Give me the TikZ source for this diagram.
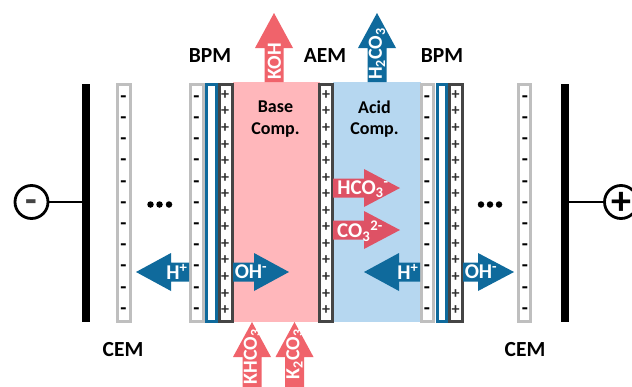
\documentclass[tikz,border=0pt]{standalone}
\usepackage{fontspec}
\setmainfont{Carlito}
\definecolor{arrowred}{HTML}{F0636B}
\definecolor{ionred}{HTML}{DE5265}
\definecolor{deepblue}{HTML}{0F6A9C}
\definecolor{basepink}{HTML}{FFB7BB}
\definecolor{acidblue}{HTML}{B6D7F0}
\definecolor{memgrey}{HTML}{BFBFBF}
\definecolor{memdark}{HTML}{454545}
\newcommand{\fs}[1]{\fontsize{#1}{#1}\selectfont}
\tikzset{
  panel/.style={anchor=north west,inner sep=0pt,outer sep=0pt},
  cemmem/.style={draw=memgrey,line width=3pt,fill=white},
  posmem/.style={draw=memdark,line width=3pt,fill=white},
  midmem/.style={draw=deepblue,line width=3pt,fill=white},
  elecbar/.style={fill=black},
  headlabel/.style={font=\bfseries\fs{21.5},text=black,inner sep=0pt},
  comp/.style={font=\bfseries\fs{18},text=black,inner sep=0pt,align=center},
  minussign/.style={font=\bfseries\fs{20},text=black,inner sep=0pt},
  plussign/.style={font=\bfseries\fs{16},text=memdark!70!black,inner sep=0pt},
  ion/.style={font=\bfseries\fs{21},text=white,inner sep=0pt},
  vion/.style={font=\bfseries\fs{20},text=white,inner sep=0pt,rotate=90},
  wire/.style={line width=2.6pt,draw=black},
  pole/.style={circle,draw=black,line width=2.8pt,fill=white,minimum size=33pt,inner sep=0pt},
  dotmark/.style={circle,fill=black,minimum size=6.5pt,inner sep=0pt}
}
% horizontal block arrow: start x, head base x, tip x, centre y, colour
\newcommand{\harrow}[5]{\fill[#5] (#1,#4-9.5) -- (#2,#4-9.5) -- (#2,#4-19) -- (#3,#4) -- (#2,#4+19) -- (#2,#4+9.5) -- (#1,#4+9.5) -- cycle;}
% vertical block arrow: centre x, start y, head base y, tip y, colour
\newcommand{\varrow}[5]{\fill[#5] (#1-9.5,#2) -- (#1-9.5,#3) -- (#1-19,#3) -- (#1,#4) -- (#1+19,#3) -- (#1+9.5,#3) -- (#1+9.5,#2) -- cycle;}
\newcommand{\minuscol}[1]{\foreach \yy in {99,120.2,...,312}{\node[minussign] at (#1,\yy) {-};}}
\newcommand{\pluscol}[1]{\foreach \yy in {95,111.55,...,311}{\node[plussign] at (#1,\yy) {+};}}
\begin{document}
\begin{tikzpicture}[x=1pt,y=-1pt]
\useasboundingbox (0,0) rectangle (632,386);
\clip (0,0) rectangle (632,386);
\fill[white] (0,0) rectangle (632,386);
% compartments
\node[panel,fill=basepink,minimum width=87pt,minimum height=240pt] (base) at (233,82) {};
\node[panel,fill=acidblue,minimum width=88pt,minimum height=240pt] (acid) at (333,82) {};
% electrodes
\node[panel,elecbar,minimum width=8pt,minimum height=238pt] (eL) at (82,84) {};
\node[panel,elecbar,minimum width=8.5pt,minimum height=238pt] (eR) at (560.5,84) {};
% poles and wires
\node[pole] (pm) at (31.5,202) {};
\node[pole] (pp) at (621,202) {};
\node[font=\bfseries\fs{38},text=memdark,inner sep=0pt] (pmt) at (31.5,206) {-};
\node[font=\bfseries\fs{40},text=black,inner sep=0pt] (ppt) at (621,203.5) {+};
\draw[wire] (pm) -- (pm -| eL.west);
\draw[wire] (pp) -- (pp -| eR.east);
% membranes
\draw[cemmem] (117.5,84) rectangle (130,321);
\draw[cemmem] (190.5,84) rectangle (203,321);
\draw[midmem] (206.5,84) rectangle (216,321);
\draw[posmem] (219,84) rectangle (232,321);
\draw[posmem] (319.5,84) rectangle (332,321);
\draw[cemmem] (421,84) rectangle (433.5,321);
\draw[midmem] (437,84) rectangle (446.5,321);
\draw[posmem] (449.5,84) rectangle (462,321);
\draw[cemmem] (518,84) rectangle (530.5,321);
% signs
\minuscol{123.5}
\minuscol{196.5}
\minuscol{427}
\minuscol{525}
\pluscol{225}
\pluscol{326}
\pluscol{455.5}
% dots
\foreach \xx in {150.5,159.5,169}{\node[dotmark] at (\xx,204.5) {};}
\foreach \xx in {481,490,499}{\node[dotmark] at (\xx,204.5) {};}
% block arrows
\varrow{274}{82}{48}{13}{arrowred}
\varrow{377}{82}{48}{13}{deepblue}
\varrow{252}{390}{357}{322}{arrowred}
\varrow{294.5}{390}{357}{322}{arrowred}
\harrow{333}{364}{400}{188}{ionred}
\harrow{333}{364}{400}{230}{ionred}
\harrow{189}{171}{136}{272}{deepblue}
\harrow{233}{254}{289}{272}{deepblue}
\harrow{420}{399}{364}{272}{deepblue}
\harrow{463}{478}{514}{272}{deepblue}
% labels
\node[headlabel] (bpmL) at (210,56) {BPM};
\node[headlabel] (aem) at (325,56) {AEM};
\node[headlabel] (bpmR) at (442,56) {BPM};
\node[headlabel] (cemL) at (123,350) {CEM};
\node[headlabel] (cemR) at (525,350) {CEM};
\node[comp] (bc) at (275.5,119) {Base\\[3.5pt]Comp.};
\node[comp] (ac) at (374.5,119) {Acid\\[3.5pt]Comp.};
\node[vion] (koh) at (274.5,61) {KOH};
\node[vion] (h2) at (377,54) {H\textsubscript{2}CO\textsubscript{3}};
\node[vion,anchor=east] (khc) at (252,329) {KHCO\textsubscript{3}};
\node[vion,anchor=east] (k2c) at (294.5,329) {K\textsubscript{2}CO\textsubscript{3}};
\node[ion] (hco) at (363,189) {HCO\textsubscript{3}\textsuperscript{-}};
\node[ion] (co) at (360,231) {CO\textsubscript{3}\textsuperscript{2-}};
\node[ion] (hl) at (177,272) {H\textsuperscript{+}};
\node[ion] (ohl) at (251,272) {OH\textsuperscript{-}};
\node[ion] (hr) at (408,272) {H\textsuperscript{+}};
\node[ion] (ohr) at (481,272) {OH\textsuperscript{-}};
\end{tikzpicture}
\end{document}
